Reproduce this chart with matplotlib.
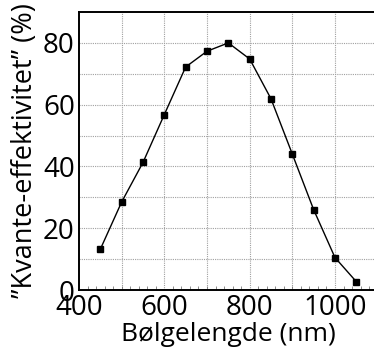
import numpy as np
import matplotlib
matplotlib.use("Agg")
import matplotlib.pyplot as plt
from matplotlib.ticker import MultipleLocator

plt.rcParams['font.family'] = ['Open Sans', 'DejaVu Sans']

wavelength = [450, 500, 550, 600, 650, 700, 750, 800, 850, 900, 950, 1000, 1050]
efficiency = [13.2, 28.5, 41.3, 56.8, 72.2, 77.3, 80.0, 74.8, 61.9, 44.0, 26.0, 10.5, 2.7]

x_ticks = [400, 600, 800, 1000]
y_ticks = [0, 20, 40, 60, 80]

fig = plt.figure(figsize=(3.74, 3.49), dpi=100)
ax = fig.add_axes([0.2112, 0.169, 0.7986, 0.7966])

ax.plot(wavelength, efficiency, color='black', linewidth=1.0, marker='s',
        markersize=4, markerfacecolor='black', markeredgecolor='black',
        solid_joinstyle='round', zorder=3)

ax.set_xlim(400, 1100)
ax.set_ylim(0, 90)
ax.set_xticks(x_ticks)
ax.set_yticks(y_ticks)
ax.xaxis.set_minor_locator(MultipleLocator(20))

# gridlines every 100 nm and every 10 %
for gx in range(500, 1100, 100):
    ax.axvline(gx, color='#a0a0a0', linestyle=(0, (1, 1)), linewidth=0.8, zorder=1)
for gy in range(10, 90, 10):
    ax.axhline(gy, color='#a0a0a0', linestyle=(0, (1, 1)), linewidth=0.8, zorder=1)

ax.tick_params(axis='both', which='major', length=0, labelsize=20, pad=3)
ax.tick_params(axis='x', which='minor', direction='in', length=3, width=0.6, color='#777777')
ax.tick_params(axis='y', which='minor', length=0)
for s in ax.spines.values():
    s.set_linewidth(1.4)
ax.spines['right'].set_visible(False)

ax.set_xlabel('Bølgelengde (nm)', fontsize=19, labelpad=0)
ax.set_ylabel('”Kvante-effektivitet” (%)', fontsize=19.5, labelpad=3)

fig.savefig('out.png', dpi=100)
